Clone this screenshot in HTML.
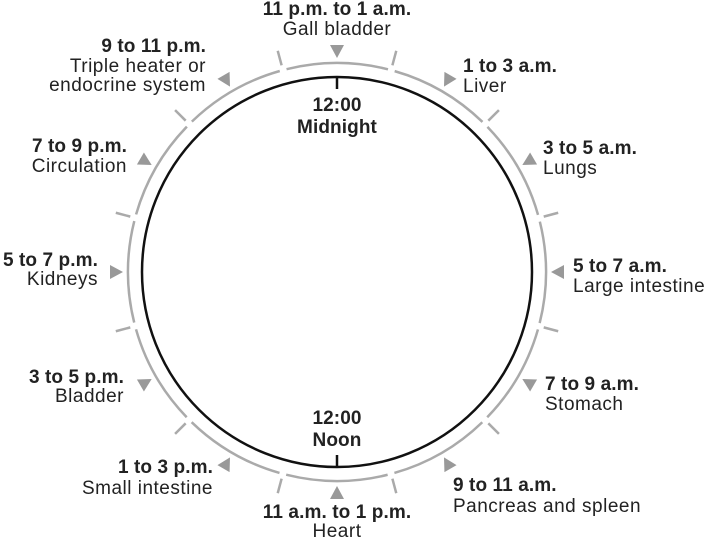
<!DOCTYPE html>
<html><head><meta charset="utf-8"><style>
html,body{margin:0;padding:0;background:#fff;}
svg{display:block;}
text{font-family:"Liberation Sans",Arial,sans-serif;font-size:19px;letter-spacing:0.5px;fill:#222;}
.b{font-weight:bold;letter-spacing:0.1px;}
</style></head><body>
<svg width="709" height="538" viewBox="0 0 709 538" xmlns="http://www.w3.org/2000/svg">
<g transform="translate(337,272)">
  <circle r="209" fill="none" stroke="#aaa" stroke-width="2.5" stroke-dasharray="102.43 7" stroke-dashoffset="-3.5" transform="rotate(15)"/>
  <circle r="195" fill="none" stroke="#111" stroke-width="2.5"/>
  <line x1="0" y1="-195" x2="0" y2="-183" stroke="#111" stroke-width="2.5"/>
  <line x1="0" y1="195" x2="0" y2="183" stroke="#111" stroke-width="2.5"/>
  <g id="tk"><line x1="0" y1="-214" x2="0" y2="-229" stroke="#aaa" stroke-width="2.5" transform="rotate(15)"/>
  <polygon points="-7,-227 7,-227 0,-214" fill="#999"/></g>
  <use href="#tk" transform="rotate(30)"/><use href="#tk" transform="rotate(60)"/>
  <use href="#tk" transform="rotate(90)"/><use href="#tk" transform="rotate(120)"/>
  <use href="#tk" transform="rotate(150)"/><use href="#tk" transform="rotate(180)"/>
  <use href="#tk" transform="rotate(210)"/><use href="#tk" transform="rotate(240)"/>
  <use href="#tk" transform="rotate(270)"/><use href="#tk" transform="rotate(300)"/>
  <use href="#tk" transform="rotate(330)"/>
</g>
<g text-anchor="middle">
<text class="b" x="337" y="15">11 p.m. to 1 a.m.</text><text x="337" y="35">Gall bladder</text>
<text class="b" x="337" y="111">12:00</text><text class="b" x="337" y="133">Midnight</text>
<text class="b" x="337" y="424">12:00</text><text class="b" x="337" y="446">Noon</text>
<text class="b" x="337" y="518">11 a.m. to 1 p.m.</text><text x="337" y="537">Heart</text>
</g>
<g>
<text class="b" x="463" y="72">1 to 3 a.m.</text><text x="463" y="92">Liver</text>
<text class="b" x="543" y="154">3 to 5 a.m.</text><text x="543" y="174">Lungs</text>
<text class="b" x="573" y="272">5 to 7 a.m.</text><text x="573" y="292">Large intestine</text>
<text class="b" x="545" y="390">7 to 9 a.m.</text><text x="545" y="410">Stomach</text>
<text class="b" x="453" y="491">9 to 11 a.m.</text><text x="453" y="512">Pancreas and spleen</text>
</g>
<g text-anchor="end">
<text class="b" x="213" y="473">1 to 3 p.m.</text><text x="213" y="494">Small intestine</text>
<text class="b" x="124" y="383">3 to 5 p.m.</text><text x="124" y="402">Bladder</text>
<text class="b" x="98" y="266">5 to 7 p.m.</text><text x="98" y="285">Kidneys</text>
<text class="b" x="127" y="152">7 to 9 p.m.</text><text x="127" y="172">Circulation</text>
<text class="b" x="206" y="52">9 to 11 p.m.</text><text x="206" y="72">Triple heater or</text><text x="206" y="91">endocrine system</text>
</g>
</svg>
</body></html>
